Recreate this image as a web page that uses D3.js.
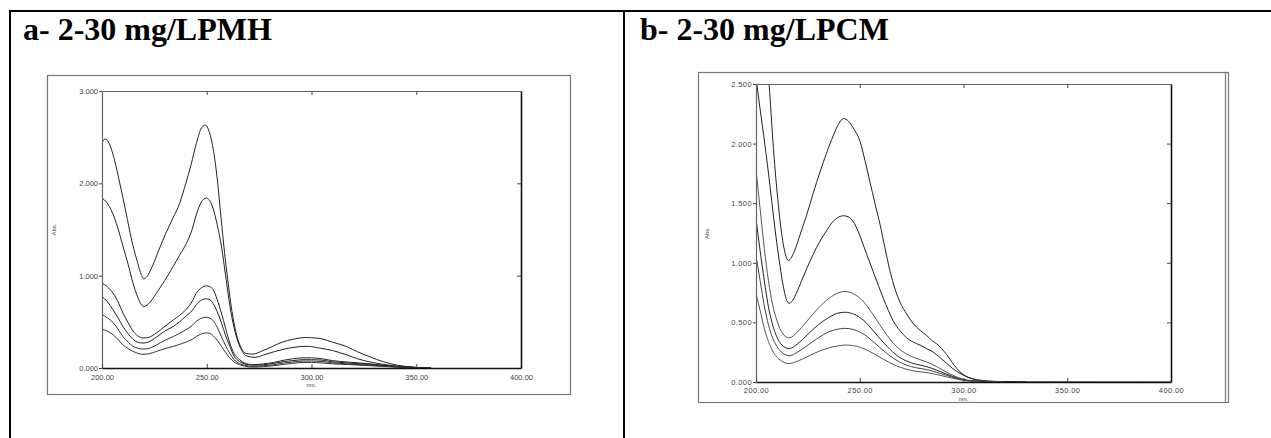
<!DOCTYPE html>
<html>
<head>
<meta charset="utf-8">
<script src="https://cdn.jsdelivr.net/npm/d3@7"></script>
<style>
  html, body { margin: 0; padding: 0; background: #fff; }
  svg { display: block; }
</style>
</head>
<body>
<svg id="fig" width="1271" height="438"></svg>
<script>
// ---- Panel titles ----
const titleA = "a- 2-30 mg/LPMH";
const titleB = "b- 2-30 mg/LPCM";

// ---- Axis ticks ----
const xTicks = [200, 250, 300, 350, 400];
const yTicksA = [0, 1, 2, 3];
const yTicksB = [0, 0.5, 1, 1.5, 2, 2.5];

// ---- Panel a: absorbance spectra (wavelength nm, Abs.) ----
const lpmh30 = [[200,2.44],[201.5,2.48],[203,2.45],[206,2.25],[208.5,2.0],[211.5,1.68],[214,1.40],[216.5,1.18],[219,1.0],[220,0.965],[221.5,0.99],[224,1.10],[227,1.27],[230.5,1.46],[234,1.63],[237,1.78],[240,2.0],[242.5,2.2],[245,2.43],[247.5,2.6],[249.3,2.63],[251,2.57],[253,2.38],[255,2.05],[256.6,1.68],[258.5,1.25],[260,0.96],[262,0.62],[264,0.38],[266,0.24],[268.5,0.16],[272,0.15],[276,0.18],[281,0.23],[286,0.28],[291,0.31],[297,0.33],[302,0.325],[305,0.315],[310,0.28],[317,0.23],[322,0.175],[328,0.12],[334,0.07],[341,0.03],[350,0.007],[357,0.0]];
const lpmh20 = [[200,1.84],[202,1.80],[205,1.68],[207.5,1.52],[210,1.32],[212.5,1.12],[214.8,0.92],[217,0.77],[220,0.665],[222,0.69],[226,0.81],[230,0.95],[234,1.10],[237,1.22],[240.3,1.35],[243,1.5],[245,1.66],[247.5,1.80],[249.8,1.84],[251.5,1.81],[253,1.73],[255,1.55],[257,1.32],[259,1.0],[261,0.68],[263,0.44],[265,0.28],[267,0.18],[269,0.13],[273,0.115],[277,0.14],[282,0.175],[287,0.205],[292,0.225],[298,0.235],[304,0.215],[310,0.19],[317,0.14],[322,0.1],[328,0.065],[334,0.04],[341,0.02],[350,0.006],[357,0.0]];
const lpmh10 = [[200,0.92],[202.5,0.88],[205.3,0.81],[208,0.70],[210,0.595],[212.5,0.49],[214.8,0.40],[217,0.35],[219.6,0.325],[222,0.33],[226,0.38],[230,0.45],[234,0.52],[237,0.57],[240,0.63],[243,0.72],[245,0.81],[247.5,0.87],[249.8,0.89],[251.5,0.88],[253,0.85],[255,0.74],[257,0.595],[259,0.43],[261,0.27],[263,0.16],[265.7,0.09],[268,0.055],[272,0.036],[277,0.045],[282,0.06],[287,0.085],[291,0.1],[296,0.11],[300,0.11],[305,0.1],[310,0.08],[317,0.065],[328,0.045],[340,0.018],[350,0.005],[357,0.0]];
const lpmh8 = [[200,0.775],[202.5,0.72],[205.3,0.63],[208,0.53],[210,0.45],[212.5,0.37],[214.8,0.31],[217,0.28],[219.6,0.27],[222,0.28],[226,0.335],[230,0.40],[234,0.45],[237,0.50],[240,0.56],[243,0.62],[245,0.685],[247.5,0.735],[249.8,0.75],[251.5,0.74],[253,0.70],[255,0.61],[257,0.49],[259,0.35],[261,0.235],[263,0.13],[265.7,0.07],[268,0.045],[272,0.03],[277,0.035],[282,0.05],[287,0.07],[291,0.08],[296,0.09],[300,0.09],[305,0.085],[310,0.068],[317,0.055],[328,0.038],[340,0.015],[350,0.004],[357,0.0]];
const lpmh5 = [[200,0.58],[202.5,0.545],[205.3,0.49],[208,0.41],[210,0.34],[212.5,0.28],[214.8,0.235],[217,0.215],[219.6,0.205],[222,0.21],[226,0.25],[230,0.30],[234,0.34],[237,0.375],[240,0.415],[243,0.46],[245,0.505],[247.5,0.54],[249.8,0.55],[251.5,0.54],[253,0.515],[255,0.44],[257,0.34],[259,0.24],[261,0.16],[263,0.09],[265.7,0.047],[268,0.03],[272,0.018],[277,0.025],[282,0.035],[287,0.055],[291,0.065],[296,0.075],[300,0.075],[305,0.07],[310,0.056],[317,0.045],[328,0.03],[340,0.012],[350,0.003],[357,0.0]];
const lpmh2 = [[200,0.42],[202.5,0.40],[205.3,0.36],[208,0.30],[210,0.25],[212.5,0.21],[214.8,0.18],[217,0.16],[219.6,0.148],[222,0.152],[226,0.18],[230,0.21],[234,0.235],[237,0.255],[240,0.28],[243,0.31],[245,0.34],[247.5,0.37],[249.8,0.38],[251.5,0.375],[253,0.35],[255,0.30],[257,0.235],[259,0.17],[261,0.108],[263,0.065],[265.7,0.036],[268,0.02],[272,0.01],[277,0.015],[282,0.025],[287,0.04],[291,0.05],[296,0.06],[300,0.06],[305,0.055],[310,0.045],[317,0.038],[328,0.025],[340,0.01],[350,0.002],[357,0.0]];

// ---- Panel b: absorbance spectra (wavelength nm, Abs.) ----
const lpcm30 = [[200,3.6],[202,3.25],[204,2.95],[206.3,2.5],[208.4,1.96],[210.8,1.48],[213.2,1.15],[215.6,1.02],[218.8,1.11],[221.5,1.25],[224.4,1.40],[227.5,1.58],[230.8,1.76],[234,1.92],[237.3,2.07],[240,2.17],[242.1,2.21],[244.5,2.19],[246.9,2.13],[250.1,2.02],[252.5,1.86],[254.9,1.68],[257.3,1.50],[259.8,1.32],[262.2,1.12],[264.6,0.93],[267,0.78],[269.4,0.67],[272.6,0.57],[275.8,0.49],[279,0.435],[282.2,0.39],[285,0.345],[287.1,0.32],[289.5,0.28],[291.9,0.23],[294.3,0.17],[296.7,0.115],[299,0.075],[301.5,0.045],[304.7,0.025],[308,0.015],[312,0.008],[320,0.003],[330,0.001],[400,0.0]];
const lpcm20 = [[200,2.55],[201.9,2.30],[204.3,1.99],[206.7,1.65],[208.5,1.38],[210,1.17],[211.6,0.97],[213.2,0.80],[214.5,0.70],[215.9,0.66],[217.5,0.68],[219.6,0.75],[222,0.85],[224.4,0.95],[227.5,1.07],[230.8,1.18],[234,1.27],[237.3,1.35],[240,1.385],[242.1,1.395],[244.5,1.385],[246.9,1.345],[249.3,1.26],[251.7,1.15],[254,1.04],[256.5,0.925],[259,0.81],[261.4,0.70],[263.8,0.60],[266.2,0.51],[269.4,0.43],[272.6,0.37],[275.8,0.335],[279,0.31],[282.2,0.28],[285.5,0.25],[288.7,0.205],[291.9,0.157],[295,0.11],[298.3,0.073],[301.5,0.045],[304.7,0.025],[308,0.013],[312,0.006],[320,0.002],[330,0.001]];
const lpcm10 = [[200,1.78],[202,1.45],[204,1.12],[206,0.85],[208,0.65],[210,0.52],[212,0.43],[214,0.385],[216,0.37],[220,0.42],[225,0.52],[230,0.62],[235,0.70],[240,0.75],[242.5,0.76],[247,0.74],[252,0.67],[257,0.55],[262,0.42],[267,0.31],[272,0.24],[277,0.2],[282,0.17],[287,0.13],[292,0.08],[297,0.04],[302,0.015],[310,0.005],[320,0.001]];
const lpcm8 = [[200,1.37],[202,1.1],[204,0.85],[206,0.63],[208,0.48],[210,0.38],[212,0.32],[214,0.29],[216,0.28],[220,0.32],[225,0.40],[230,0.48],[235,0.54],[240,0.58],[243,0.585],[247,0.57],[252,0.515],[257,0.42],[262,0.32],[267,0.235],[272,0.18],[277,0.15],[282,0.13],[287,0.10],[292,0.065],[297,0.033],[302,0.013],[310,0.004],[320,0.001]];
const lpcm5 = [[200,1.06],[202,0.85],[204,0.64],[206,0.48],[208,0.37],[210,0.3],[212,0.255],[214,0.23],[216,0.22],[220,0.25],[225,0.31],[230,0.37],[235,0.42],[240,0.445],[243,0.45],[247,0.44],[252,0.40],[257,0.33],[262,0.255],[267,0.19],[272,0.145],[277,0.12],[282,0.105],[287,0.082],[292,0.055],[297,0.028],[302,0.011],[310,0.003],[320,0.001]];
const lpcm2 = [[200,0.74],[202,0.6],[204,0.45],[206,0.34],[208,0.26],[210,0.21],[212,0.18],[214,0.16],[216,0.155],[220,0.175],[225,0.215],[230,0.255],[235,0.285],[240,0.305],[243,0.31],[247,0.305],[252,0.28],[257,0.235],[262,0.185],[267,0.14],[272,0.11],[277,0.09],[282,0.08],[287,0.063],[292,0.043],[297,0.023],[302,0.009],[310,0.002],[320,0.0]];

const seriesA = [lpmh30, lpmh20, lpmh10, lpmh8, lpmh5, lpmh2];
const seriesB = [lpcm30, lpcm20, lpcm10, lpcm8, lpcm5, lpcm2];

const svg = d3.select("#fig");

// ---- Table grid around the two panels ----
const grid = svg.append("g").attr("stroke", "#000").attr("stroke-width", 2);
grid.append("line").attr("x1", 9).attr("x2", 1271).attr("y1", 11).attr("y2", 11);
grid.append("line").attr("x1", 10).attr("x2", 10).attr("y1", 10).attr("y2", 438);
grid.append("line").attr("x1", 624).attr("x2", 624).attr("y1", 10).attr("y2", 438);

function title(x, text) {
  svg.append("text")
    .attr("x", x).attr("y", 40)
    .attr("font-family", "'Liberation Serif', 'Times New Roman', serif")
    .attr("font-weight", "bold")
    .attr("font-size", 32)
    .attr("fill", "#000")
    .text(text);
}
title(23, titleA);
title(640, titleB);

function panel(cfg) {
  const g = svg.append("g");
  // outer frame of the instrument plot
  g.append("rect")
    .attr("x", cfg.frame[0] + 0.5).attr("y", cfg.frame[1] + 0.5)
    .attr("width", cfg.frame[2] - cfg.frame[0]).attr("height", cfg.frame[3] - cfg.frame[1])
    .attr("fill", "none").attr("stroke", "#777").attr("stroke-width", 1.2);
  if (cfg.doubleRight) {
    g.append("line")
      .attr("x1", cfg.frame[2] - 2.5).attr("x2", cfg.frame[2] - 2.5)
      .attr("y1", cfg.frame[1]).attr("y2", cfg.frame[3])
      .attr("stroke", "#777").attr("stroke-width", 1.2);
  }

  const x = d3.scaleLinear().domain([200, 400]).range([cfg.left, cfg.right]);
  const y = d3.scaleLinear().domain([0, cfg.yMax]).range([cfg.bottom, cfg.top]);
  const font = "'Liberation Sans', Arial, sans-serif";

  const clipId = "clip-" + cfg.id;
  g.append("clipPath").attr("id", clipId)
    .append("rect").attr("x", cfg.left).attr("y", cfg.top)
    .attr("width", cfg.right - cfg.left).attr("height", cfg.bottom - cfg.top);

  // spectra
  const line = d3.line().x(d => x(d[0])).y(d => y(d[1])).curve(d3.curveMonotoneX);
  g.append("g").attr("clip-path", `url(#${clipId})`)
    .selectAll("path").data(cfg.series).join("path")
    .attr("d", line)
    .attr("fill", "none")
    .attr("stroke", (d, i) => cfg.colors[i])
    .attr("stroke-width", 1);

  // axes: labels outside, ticks inward on bottom/top/right, short outward on left
  const bottomAxis = d3.axisBottom(x).tickValues(xTicks).tickSizeInner(-4).tickSizeOuter(0)
    .tickPadding(cfg.xPad).tickFormat(d3.format(".2f"));
  const topAxis = d3.axisTop(x).tickValues(xTicks.slice(1, -1)).tickSizeInner(-4).tickSizeOuter(0)
    .tickFormat("");
  const leftAxis = d3.axisLeft(y).tickValues(cfg.yTicks).tickSizeInner(3).tickSizeOuter(0)
    .tickPadding(1).tickFormat(d3.format(".3f"));
  const rightAxis = d3.axisRight(y).tickValues(cfg.yTicks.slice(1, -1)).tickSizeInner(-4).tickSizeOuter(0)
    .tickFormat("");

  function style(sel, dark) {
    sel.select(".domain").attr("stroke", dark ? "#111" : "#666").attr("stroke-width", dark ? 1.6 : 1.2);
    sel.selectAll(".tick line").attr("stroke", "#444");
    sel.selectAll("text").attr("font-family", font).attr("font-size", cfg.labelSize)
      .attr("fill", "#444").attr("letter-spacing", cfg.spacing);
  }
  g.append("g").attr("transform", `translate(0,${cfg.top})`).call(topAxis).call(s => style(s, false));
  g.append("g").attr("transform", `translate(${cfg.left},0)`).call(leftAxis).call(s => style(s, false));
  g.append("g").attr("transform", `translate(0,${cfg.bottom})`).call(bottomAxis).call(s => style(s, true));
  g.append("g").attr("transform", `translate(${cfg.right},0)`).call(rightAxis).call(s => style(s, true));

  // axis titles
  g.append("text")
    .attr("transform", `translate(${cfg.absX},${(cfg.top + cfg.bottom) / 2}) rotate(-90)`)
    .attr("text-anchor", "middle")
    .attr("font-family", font).attr("font-size", 6).attr("fill", "#444")
    .text("Abs.");
  g.append("text")
    .attr("x", (cfg.left + cfg.right) / 2).attr("y", cfg.nmY)
    .attr("text-anchor", "middle")
    .attr("font-family", font).attr("font-size", 6).attr("fill", "#444")
    .text("nm.");
}

panel({
  id: "a", frame: [47, 75, 570, 394],
  left: 102, right: 521, top: 91, bottom: 368, yMax: 3, yTicks: yTicksA,
  series: seriesA, colors: ["#222", "#222", "#222", "#222", "#333", "#333"],
  labelSize: 7.5, spacing: 0, xPad: 7, absX: 56, nmY: 387
});
panel({
  id: "b", frame: [698, 72, 1228, 402],
  left: 756, right: 1171, top: 84, bottom: 382, yMax: 2.5, yTicks: yTicksB,
  series: seriesB, colors: ["#222", "#222", "#555", "#222", "#444", "#555"],
  labelSize: 7.5, spacing: 0.4, xPad: 6, absX: 709, nmY: 400.5, doubleRight: true
});
</script>
</body>
</html>
